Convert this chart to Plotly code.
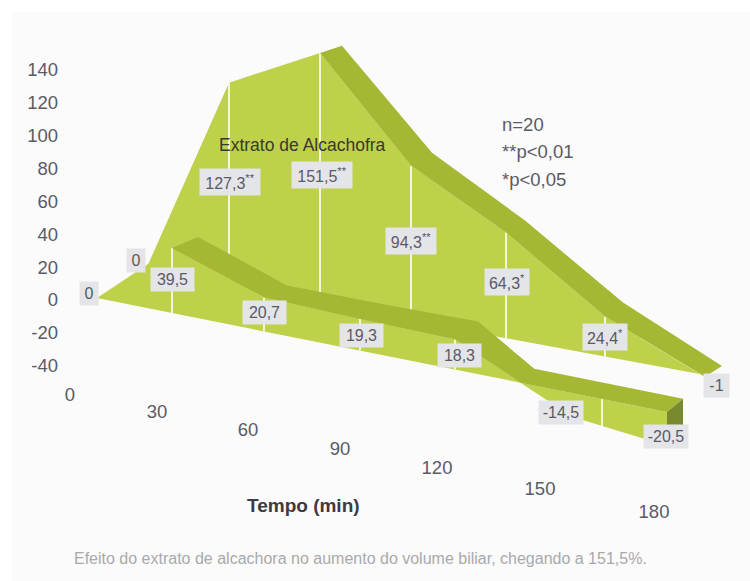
import plotly.graph_objects as go

# ---- data ----
minutes = [0, 30, 60, 90, 120, 150, 180]
tick_x = [70, 157, 248, 340, 437, 540, 654]

extract_values = [0, 127.3, 151.5, 94.3, 64.3, 24.4, -1]
extract_x = [145, 229, 320, 411, 506, 605, 705]
extract_floor_shift = [0, -3, 1.2, 0, 0, 0, 0]
extract_labels = ["0", "127,3<sup>**</sup>", "151,5<sup>**</sup>", "94,3<sup>**</sup>", "64,3<sup>*</sup>", "24,4<sup>*</sup>", "-1"]

control_values = [0, 39.5, 20.7, 19.3, 18.3, -14.5, -20.5]
control_x = [97, 172, 264, 360, 455, 572, 667]
control_labels = ["0", "39,5", "20,7", "19,3", "18,3", "-14,5", "-20,5"]
control_extra_rule_x = [602]

y_ticks = [-40, -20, 0, 20, 40, 60, 80, 100, 120, 140]

# depth of the extruded ribbons (horizontal units, value units)
extract_depth_x = [22, 21, 19, 18, 17]
extract_depth_y = [4.3, 7.9, 7.3, 8.5, 6.5]
control_depth_x = [26, 23, 22, 23, 14, 16]
control_depth_y = [6.7, 7.3, 9, 11, 8.5, 8]

# ---- projection ----
PX = 1.643          # pixels per value unit
ZERO = 298          # pixel row of value 0


def vy(py):
    return (ZERO - py) / PX


def base_c(x):      # floor line of the control ribbon
    return -(x - 97) * 0.2 / PX


def base_e(x):      # floor line of the extract ribbon
    return vy(375) - (x - 705) * 0.185 / PX


def interp(xs, ys, x):
    for a, b, c, d in zip(xs, xs[1:], ys, ys[1:]):
        if a <= x <= b:
            return c + (d - c) * (x - a) / (b - a)
    return ys[-1]


GREEN = "#bfd04a"
RIBBON = "#a6b733"
DARK = "#788a2e"
LABEL_BG = "#e3e5e8"
TXT = "#5a5a66"
FONT = "Liberation Sans"

fig = go.Figure()


def poly(xs, ys, color):
    fig.add_trace(go.Scatter(x=xs, y=ys, mode="lines", fill="toself", fillcolor=color,
                             line=dict(width=0, color=color), hoverinfo="skip", showlegend=False))


def rule(x, y0, y1):
    fig.add_trace(go.Scatter(x=[x, x], y=[y0, y1], mode="lines", line=dict(color="white", width=1.6),
                             hoverinfo="skip", showlegend=False))


# extract area
e_top = [v + base_e(x) + s for v, x, s in zip(extract_values, extract_x, extract_floor_shift)]
poly(extract_x + extract_x[::-1], e_top + [base_e(x) for x in extract_x[::-1]], GREEN)
for x, y in zip(extract_x[1:-1], e_top[1:-1]):
    rule(x, base_e(x), y)
# thin light edge under the last ribbon section
fig.add_trace(go.Scatter(x=[640, extract_x[-1]], y=[interp(extract_x, e_top, 640), e_top[-1]], mode="lines",
                         line=dict(color="#eef2d0", width=1), hoverinfo="skip", showlegend=False))
# extract ribbon
rx = extract_x[2:]
ry = e_top[2:]
poly(rx + [x + d for x, d in zip(rx, extract_depth_x)][::-1],
     ry + [y + d for y, d in zip(ry, extract_depth_y)][::-1], RIBBON)

# control area
c_top = [v + base_c(x) for v, x in zip(control_values, control_x)]
poly(control_x + control_x[::-1], c_top + [base_c(x) for x in control_x[::-1]], GREEN)
for x, y in zip(control_x[1:5], c_top[1:5]):
    rule(x, base_c(x), y)
for x in control_extra_rule_x:
    rule(x, base_c(x), interp(control_x, c_top, x))

# control ribbon: follows the line while positive, then the floor
fx = control_x[1:5]
fy = c_top[1:5]
a, b = control_x[4], control_x[5]
ta, tb = c_top[4] - base_c(a), c_top[5] - base_c(b)
cross = a + (b - a) * ta / (ta - tb)
fx = fx + [cross, control_x[6]]
fy = fy + [base_c(cross), base_c(control_x[6])]
poly(fx + [x + d for x, d in zip(fx, control_depth_x)][::-1],
     fy + [y + d for y, d in zip(fy, control_depth_y)][::-1], RIBBON)
# end cap
ex, ed = control_x[6], control_depth_x[-1]
poly([ex, ex + ed, ex + ed, ex],
     [base_c(ex), base_c(ex) + control_depth_y[-1], c_top[6] + control_depth_y[-1], c_top[6]], DARK)

# time ticks, following the floor
fig.add_trace(go.Scatter(x=tick_x, y=[base_c(x) - 63 for x in tick_x], mode="text",
                         text=[str(m) for m in minutes], textposition="middle center",
                         textfont=dict(family=FONT, size=18.5, color=TXT),
                         hoverinfo="skip", showlegend=False))

# value labels
label_pos = [(136, 260), (230, 182), (322, 175), (411, 241), (507, 282), (605, 337), (716, 385),
             (89, 293), (172, 279), (264, 312), (361, 335), (459, 355), (561, 412), (666, 436)]
label_w = [12, 54, 54, 44, 38, 38, 19, 12, 37, 37, 37, 37, 38, 38]
for txt, (lx, ly), w in zip(extract_labels + control_labels, label_pos, label_w):
    fig.add_annotation(x=lx, y=vy(ly), text=txt, showarrow=False, bgcolor=LABEL_BG, borderpad=3, width=w,
                       font=dict(family=FONT, size=16, color=TXT))


def note(x, py, text, size, color, anchor="left"):
    fig.add_annotation(x=x, y=vy(py), text=text, showarrow=False, xanchor=anchor,
                       font=dict(family=FONT, size=size, color=color))


note(302, 145, "Extrato de Alcachofra", 17.5, "#3a3a2a", "center")
note(500, 124, "n=20", 18.5, TXT)
note(500, 151, "**p<0,01", 18.5, TXT)
note(500, 179, "*p<0,05", 18.5, TXT)
note(303, 505, "<b>Tempo (min)</b>", 19, "#3d3a44", "center")
note(72, 558, "Efeito do extrato de alcachora no aumento do volume biliar, chegando a 151,5%.", 16, "#a9a9ab")

fig.add_shape(type="rect", xref="paper", yref="paper", x0=(12 - 62) / 688, x1=1, y0=0, y1=1 - 12 / 581,
              fillcolor="#fbfbfb", line_width=0, layer="below")

fig.update_layout(
    width=750, height=581, margin=dict(l=62, r=0, t=0, b=0),
    paper_bgcolor="white", plot_bgcolor="rgba(0,0,0,0)", showlegend=False,
    xaxis=dict(range=[62, 750], visible=False, fixedrange=True),
    yaxis=dict(range=[vy(581), vy(0)], tickvals=y_ticks, ticktext=[str(t) for t in y_ticks], ticks="",
               showgrid=False, zeroline=False, showline=False, ticklabelstandoff=3, ticklabelshift=2,
               tickfont=dict(family=FONT, size=18.5, color=TXT), fixedrange=True),
)
fig.write_html("out.html", post_script="document.body.style.margin='0';", config={"displayModeBar": False})
